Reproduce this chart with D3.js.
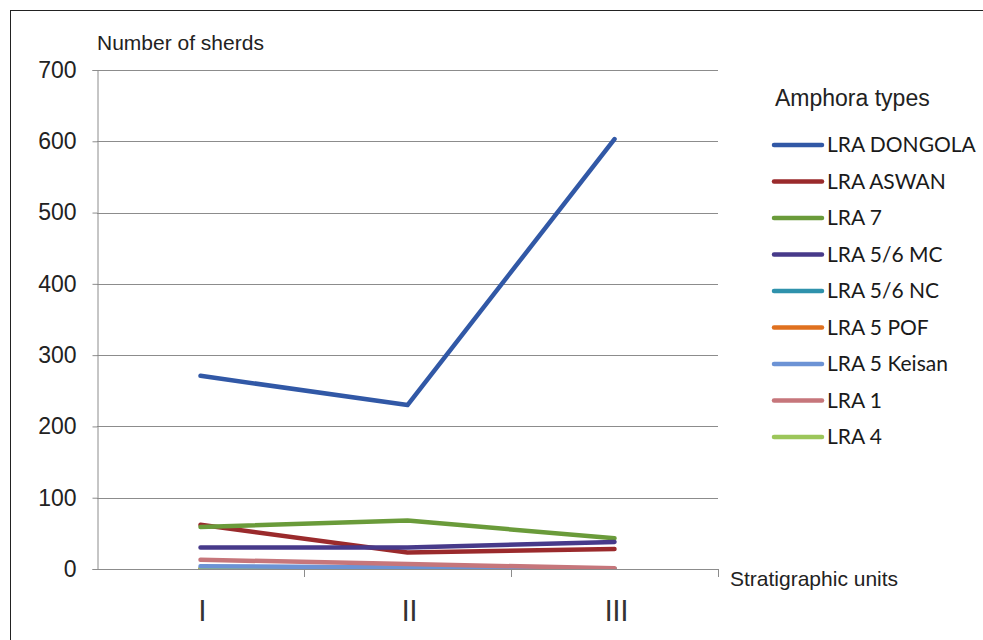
<!DOCTYPE html>
<html>
<head>
<meta charset="utf-8">
<script src="https://cdn.jsdelivr.net/npm/d3@7"></script>
<style>
  body { margin: 0; background: #fff; }
  svg { display: block; }
</style>
</head>
<body>
<div class="graph"></div>
<script>
var units = ['I', 'II', 'III'];
var yTicks = [0, 100, 200, 300, 400, 500, 600, 700];

var seriesNames = ['LRA DONGOLA', 'LRA ASWAN', 'LRA 7', 'LRA 5/6 MC', 'LRA 5/6 NC',
                   'LRA 5 POF', 'LRA 5 Keisan', 'LRA 1', 'LRA 4'];
var dongola = [271, 230, 603];
var aswan = [62, 23, 28];
var lra7 = [59, 68, 43];
var mc = [30, 30, 38];
var nc = [0, 0, 0];
var pof = [0, 0, 0];
var keisan = [4, 2, 0];
var lra1 = [13, 7, 1];
var lra4 = [0, 0, 0];
var seriesValues = [dongola, aswan, lra7, mc, nc, pof, keisan, lra1, lra4];
var colors = ['#3158a6', '#9a2a2c', '#6a9b3a', '#473a8a', '#2f92ac',
              '#e0711f', '#6c93d5', '#c6767b', '#9cc65a'];

var W = 983, H = 640;
var svg = d3.select('.graph').append('svg')
            .attr('width', W)
            .attr('height', H);

// frame
svg.append('rect')
  .attr('x', 10.5).attr('y', 10.5)
  .attr('width', 990).attr('height', 650)
  .attr('fill', 'none').attr('stroke', '#222').attr('stroke-width', 1);

var plot = {left: 97, right: 718, top: 70, bottom: 569};

var x = d3.scaleBand().domain(units).range([plot.left, plot.right]);
var y = d3.scaleLinear().domain([0, 700]).range([plot.bottom, plot.top]);

svg.append('clipPath').attr('id', 'plotclip')
  .append('rect')
  .attr('x', plot.left).attr('y', plot.top - 10)
  .attr('width', plot.right - plot.left).attr('height', plot.bottom - plot.top + 10);

// gridlines
svg.append('g').selectAll('line').data(yTicks.filter(function(d) { return d > 0; }))
  .enter().append('line')
  .attr('x1', plot.left).attr('x2', plot.right)
  .attr('y1', function(d) { return Math.round(y(d)) + 0.5; })
  .attr('y2', function(d) { return Math.round(y(d)) + 0.5; })
  .attr('stroke', '#8c8c8c').attr('stroke-width', 1);

// y axis
var yAxis = d3.axisLeft(y).tickValues(yTicks).tickSize(5).tickPadding(16);
var gy = svg.append('g').attr('transform', 'translate(' + (plot.left + 0.5) + ',0)').call(yAxis);
gy.select('.domain').attr('stroke', '#8c8c8c');
gy.selectAll('.tick line').attr('stroke', '#8c8c8c');
gy.selectAll('.tick text')
  .attr('font-family', 'Liberation Sans, Arial, sans-serif')
  .attr('font-size', 23).attr('fill', '#222');

// x axis
var xAxis = d3.axisBottom(x).tickSize(0).tickPadding(32);
var gx = svg.append('g').attr('transform', 'translate(0,' + (plot.bottom + 0.5) + ')').call(xAxis);
gx.select('.domain').attr('stroke', '#8c8c8c').attr('d', 'M' + plot.left + ',0H' + plot.right);
gx.selectAll('.tick text')
  .attr('font-family', 'Lato, sans-serif')
  .attr('font-size', 28).attr('fill', '#333')
  .attr('dx', 2);
// category separators
svg.append('g').selectAll('line').data(units)
  .enter().append('line')
  .attr('x1', function(d) { return Math.round(x(d) + x.bandwidth()) + 0.5; })
  .attr('x2', function(d) { return Math.round(x(d) + x.bandwidth()) + 0.5; })
  .attr('y1', plot.bottom).attr('y2', plot.bottom + 8)
  .attr('stroke', '#8c8c8c');

// lines: all-zero series underneath, then later series on top of earlier ones
var line = d3.line()
  .x(function(d, i) { return x(units[i]) + x.bandwidth() / 2; })
  .y(function(d) { return y(d); });

var order = d3.range(seriesNames.length);
var empty = order.filter(function(k) { return d3.max(seriesValues[k]) === 0; });
var shown = order.filter(function(k) { return d3.max(seriesValues[k]) > 0; });
svg.append('g').attr('clip-path', 'url(#plotclip)')
  .selectAll('path').data(empty.concat(shown))
  .enter().append('path')
  .attr('d', function(k) { return line(seriesValues[k]); })
  .attr('fill', 'none')
  .attr('stroke', function(k) { return colors[k]; })
  .attr('stroke-width', 4.5)
  .attr('stroke-linecap', 'round')
  .attr('stroke-linejoin', 'round');

// axis titles
svg.append('text').attr('x', 97).attr('y', 50)
  .attr('font-family', 'Liberation Sans, Arial, sans-serif')
  .attr('font-size', 21).attr('fill', '#222')
  .text('Number of sherds');
svg.append('text').attr('x', 730).attr('y', 586)
  .attr('font-family', 'Liberation Sans, Arial, sans-serif')
  .attr('font-size', 21).attr('fill', '#222')
  .text('Stratigraphic units');

// legend
svg.append('text').attr('x', 775).attr('y', 106)
  .attr('font-family', 'Liberation Sans, Arial, sans-serif')
  .attr('font-size', 23).attr('fill', '#222')
  .text('Amphora types');

var lg = svg.append('g').selectAll('g').data(seriesNames)
  .enter().append('g')
  .attr('transform', function(d, i) { return 'translate(774,' + (145 + i * 36.5) + ')'; });
lg.append('line')
  .attr('x1', 0).attr('x2', 48)
  .attr('stroke', function(d, i) { return colors[i]; })
  .attr('stroke-width', 4.5).attr('stroke-linecap', 'round');
lg.append('text')
  .attr('x', 53).attr('y', 7)
  .attr('font-family', 'Lato, sans-serif')
  .attr('font-size', 21).attr('fill', '#1a1a1a')
  .text(function(d) { return d; });
</script>
</body>
</html>
